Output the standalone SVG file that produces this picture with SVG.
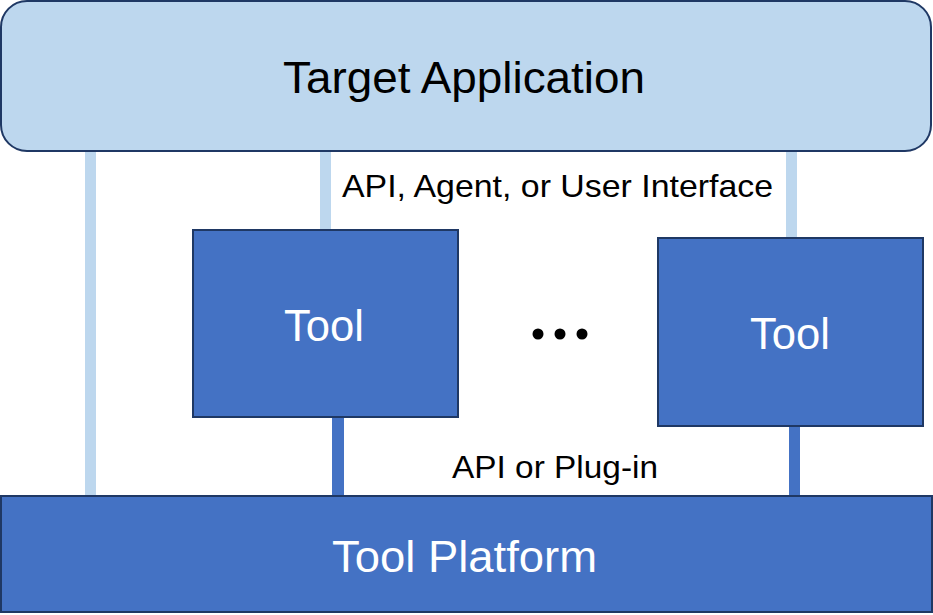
<svg xmlns="http://www.w3.org/2000/svg" width="933" height="615" viewBox="0 0 933 615">
<style>
.light{fill:#BDD7EE;stroke:#1F3864;stroke-width:2}
.dark{fill:#4472C4;stroke:#1F3864;stroke-width:2}
.lc{fill:#BDD7EE}
.dc{fill:#4472C4}
.t{font-family:"Liberation Sans",Arial,sans-serif}
.w{fill:#FFFFFF}
.b{fill:#000000}
</style>
<rect width="933" height="615" fill="#FFFFFF"/>
<g id="connectors">
<rect class="lc" x="85" y="150" width="11" height="346"/>
<rect class="lc" x="320" y="150" width="11" height="81"/>
<rect class="lc" x="786" y="150" width="11" height="89"/>
<rect class="dc" x="332" y="417" width="12" height="80"/>
<rect class="dc" x="789" y="425" width="11" height="72"/>
<text class="t b" x="342" y="197" font-size="32" textLength="431" lengthAdjust="spacingAndGlyphs">API, Agent, or User Interface</text>
<text class="t b" x="452" y="478" font-size="32" textLength="206" lengthAdjust="spacingAndGlyphs">API or Plug-in</text>
</g>
<g id="target-application">
<rect class="light" x="1" y="1" width="930" height="150" rx="26" ry="26"/>
<text class="t b" x="283" y="93" font-size="44" textLength="362" lengthAdjust="spacingAndGlyphs">Target Application</text>
</g>
<g id="tool-1">
<rect class="dark" x="193" y="230" width="265" height="187"/>
<text class="t w" x="284" y="341" font-size="44" textLength="80" lengthAdjust="spacingAndGlyphs">Tool</text>
</g>
<g id="ellipsis">
<circle cx="538" cy="334" r="5.5" fill="#000000"/>
<circle cx="560" cy="334" r="5.5" fill="#000000"/>
<circle cx="582" cy="334" r="5.5" fill="#000000"/>
</g>
<g id="tool-2">
<rect class="dark" x="658" y="238" width="265" height="188"/>
<text class="t w" x="750" y="349" font-size="44" textLength="80" lengthAdjust="spacingAndGlyphs">Tool</text>
</g>
<g id="tool-platform">
<rect class="dark" x="1" y="496" width="931" height="116"/>
<text class="t w" x="332" y="572" font-size="44" textLength="265" lengthAdjust="spacingAndGlyphs">Tool Platform</text>
</g>
</svg>
